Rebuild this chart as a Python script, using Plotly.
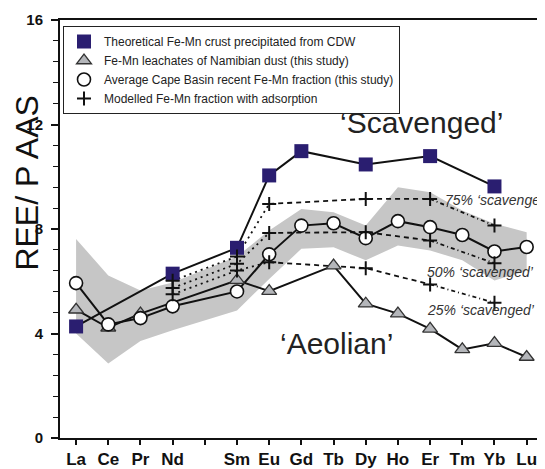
import plotly.graph_objects as go

# ---------------- data ----------------
elements = ['La', 'Ce', 'Pr', 'Nd', 'Pm', 'Sm', 'Eu', 'Gd', 'Tb', 'Dy', 'Ho', 'Er', 'Tm', 'Yb', 'Lu']
tick_labels = ['La', 'Ce', 'Pr', 'Nd', '', 'Sm', 'Eu', 'Gd', 'Tb', 'Dy', 'Ho', 'Er', 'Tm', 'Yb', 'Lu']

cdw_crust = [4.27, None, None, 6.29, None, 7.28, 10.05, 10.98, None, 10.47, None, 10.79, None, 9.63, None]
namib_dust = [4.91, 4.22, 4.76, None, None, 6.04, 5.62, None, 6.60, 5.14, 4.76, 4.18, 3.39, 3.63, 3.10]
cape_basin = [5.93, 4.35, 4.59, 5.04, None, 5.61, 7.03, 8.13, 8.22, 7.65, 8.30, 8.07, 7.77, 7.14, 7.31]

band_upper = [7.62, 6.22, 5.65, 5.95, None, 6.95, 7.94, 8.77, 8.64, 8.13, 9.60, 9.41, 8.71, 8.20, 7.88]
band_lower = [4.00, 2.85, 3.71, 4.12, None, 4.88, 6.09, 7.24, 7.30, 6.80, 7.37, 7.18, 6.80, 6.03, 6.40]

model_75 = [None, None, None, 6.02, None, 6.95, 8.96, None, None, 9.15, None, 9.15, None, 8.13, None]
model_50 = [None, None, None, 5.74, None, 6.67, 7.85, None, None, 7.88, None, 7.56, None, 6.69, None]
model_25 = [None, None, None, 5.50, None, 6.41, 6.73, None, None, 6.50, None, 5.88, None, 5.18, None]

legend_names = [
    'Theoretical Fe-Mn crust precipitated from CDW',
    'Fe-Mn leachates of Namibian dust (this study)',
    'Average Cape Basin recent Fe-Mn fraction (this study)',
    'Modelled Fe-Mn fraction with adsorption',
]

FONT = 'Arial, Liberation Sans, sans-serif'
NAVY = '#2A1E70'

# page body has an 8px margin; figure is sized to compensate
BODY = 8
PLOT_L, PLOT_T, PLOT_B = 60, 20, 437.7   # plot area in window pixels
PLOT_W = 545 - PLOT_L
PLOT_H = PLOT_B - PLOT_T

pos = list(range(len(elements)))


def valid(arr, i0=0, i1=None):
    if i1 is None:
        i1 = len(arr) - 1
    xs = [p for p in pos[i0:i1 + 1] if arr[p] is not None]
    ys = [arr[p] for p in xs]
    return xs, ys


def px(xpix):
    return (xpix - PLOT_L) / PLOT_W


def py(ypix):
    return (PLOT_B - ypix) / PLOT_H


fig = go.Figure()

# grey envelope
ux, uy = valid(band_upper)
lx, ly = valid(band_lower)
fig.add_trace(go.Scatter(x=ux + lx[::-1], y=uy + ly[::-1], fill='toself', mode='lines',
                         line=dict(width=0), fillcolor='#C6C6C6', hoverinfo='skip', showlegend=False))

# modelled lines (three segments with different dash styles)
iNd, iEu, iEr, iYb = elements.index('Nd'), elements.index('Eu'), elements.index('Er'), elements.index('Yb')
for m in (model_75, model_50, model_25):
    for (a, b, dash) in ((iNd, iEu, '2px,4px'), (iEu, iEr, '5px,4px'), (iEr, iYb, '4px,3px,1px,3px')):
        sx, sy = valid(m, a, b)
        fig.add_trace(go.Scatter(x=sx, y=sy, mode='lines', line=dict(color='#111', width=1.8, dash=dash),
                                 showlegend=False, hoverinfo='skip'))

# solid lines
for arr in (cdw_crust, namib_dust, cape_basin):
    sx, sy = valid(arr)
    fig.add_trace(go.Scatter(x=sx, y=sy, mode='lines', line=dict(color='#111', width=2),
                             showlegend=False, hoverinfo='skip'))

# markers
x, y = valid(cdw_crust)
fig.add_trace(go.Scatter(x=x, y=y, mode='markers', name=legend_names[0],
                         marker=dict(symbol='square', size=14, color=NAVY, line=dict(width=0))))
x, y = valid(namib_dust)
fig.add_trace(go.Scatter(x=x, y=y, mode='markers', name=legend_names[1],
                         marker=dict(symbol='triangle-up', size=13, color='#B4B6BA',
                                     line=dict(width=1.3, color='#333'))))
x, y = valid(cape_basin)
fig.add_trace(go.Scatter(x=x, y=y, mode='markers', name=legend_names[2],
                         marker=dict(symbol='circle', size=13, color='white',
                                     line=dict(width=1.6, color='#111'))))
for k, m in enumerate((model_75, model_50, model_25)):
    x, y = valid(m)
    fig.add_trace(go.Scatter(x=x, y=y, mode='markers', name=legend_names[3], legendgroup='model',
                             showlegend=(k == 0),
                             marker=dict(symbol='cross-thin', size=10,
                                         line=dict(width=2, color='#111'))))

# annotations
fig.add_annotation(x=px(27), y=py(182.5), xref='paper', yref='paper', text='REE/ P AAS', textangle=-90,
                   showarrow=False, font=dict(family=FONT, size=32, color='#111'),
                   xanchor='center', yanchor='middle')
fig.add_annotation(x=px(421.7), y=py(122), xref='paper', yref='paper',
                   text='\u2018Scavenged\u2019', showarrow=False,
                   font=dict(family=FONT, size=30, color='#222'), xanchor='center', yanchor='middle')
fig.add_annotation(x=px(336), y=py(343), xref='paper', yref='paper',
                   text='\u2018Aeolian\u2019', showarrow=False,
                   font=dict(family=FONT, size=30, color='#222'), xanchor='center', yanchor='middle')
for txt, tx, ty in (('75% \u2018scavenged\u2019', 443, 200),
                    ('50% \u2018scavenged\u2019', 425, 272),
                    ('25% \u2018scavenged\u2019', 425, 309.5)):
    fig.add_annotation(x=px(tx), y=py(ty), xref='paper', yref='paper',
                       text='<i>' + txt + '</i>', showarrow=False,
                       font=dict(family=FONT, size=14, color='#333'), xanchor='left', yanchor='middle')

fig.update_layout(
    width=545 - BODY, height=469 - BODY,
    margin=dict(l=PLOT_L - BODY, r=0, t=PLOT_T - BODY, b=469 - PLOT_B, autoexpand=False),
    paper_bgcolor='white', plot_bgcolor='white',
    font=dict(family=FONT, color='#111'),
    showlegend=True,
    legend=dict(x=px(63), y=py(26), xanchor='left', yanchor='top', bgcolor='white',
                bordercolor='#222', borderwidth=1, font=dict(family=FONT, size=12, color='#222'),
                itemsizing='trace', tracegroupgap=0),
    xaxis=dict(range=[-0.5, 14.57], tickmode='array', tickvals=pos, ticktext=tick_labels,
               showgrid=False, zeroline=False, showline=True, linecolor='#111', linewidth=2,
               mirror=True, ticks='outside', ticklen=5, tickwidth=1.5, tickcolor='#111',
               tickfont=dict(family=FONT, size=17, color='#111', weight='bold')),
    yaxis=dict(range=[0, 16], tickmode='linear', tick0=0, dtick=4,
               showgrid=False, zeroline=False, showline=True, linecolor='#111', linewidth=2,
               ticks='outside', ticklen=7, tickwidth=1.5, tickcolor='#111', ticklabelstandoff=5,
               minor=dict(dtick=0.8, ticks='outside', ticklen=5, tickwidth=1.2, tickcolor='#111'),
               tickfont=dict(family=FONT, size=15, color='#111', weight='bold')),
)

fig.write_html('out.html')
